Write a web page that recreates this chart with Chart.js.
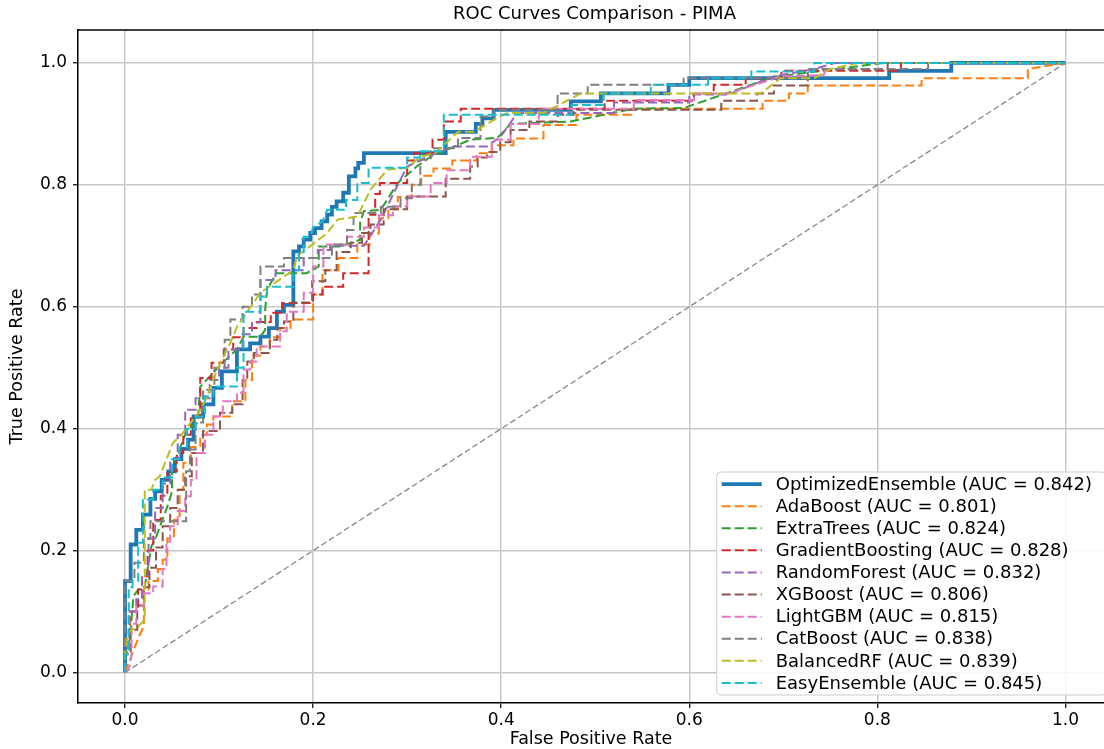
<!DOCTYPE html>
<html><head><meta charset="utf-8">
<script src="https://cdn.jsdelivr.net/npm/chart.js@4.4.1/dist/chart.umd.min.js"></script>
<style>html,body{margin:0;padding:0;background:#fff;overflow:hidden;}#wrap{width:1104px;height:749px;overflow:hidden;}canvas{display:block;}</style>
</head><body><div id="wrap"><canvas id="c" width="1104" height="749"></canvas></div>
<script>
const chartTitle = 'ROC Curves Comparison - PIMA';
const xTicks = [0, 0.2, 0.4, 0.6, 0.8, 1.0];
const yTicks = [0, 0.2, 0.4, 0.6, 0.8, 1.0];
const models = ['OptimizedEnsemble','AdaBoost','ExtraTrees','GradientBoosting','RandomForest','XGBoost','LightGBM','CatBoost','BalancedRF','EasyEnsemble'];
const aucValues = [0.842,0.801,0.824,0.828,0.832,0.806,0.815,0.838,0.839,0.845];
const colors = ['#1f77b4','#ff7f0e','#2ca02c','#d62728','#9467bd','#8c564b','#e377c2','#7f7f7f','#bcbd22','#17becf'];

const rocOptimizedEnsemble = [[0,0],[0,0.15],[0.006,0.15],[0.006,0.21],[0.012,0.21],[0.012,0.234],[0.019,0.234],[0.019,0.259],[0.027,0.259],[0.027,0.285],[0.032,0.285],[0.032,0.297],[0.039,0.297],[0.039,0.316],[0.046,0.316],[0.046,0.33],[0.053,0.33],[0.053,0.35],[0.06,0.35],[0.06,0.367],[0.067,0.367],[0.067,0.382],[0.073,0.382],[0.073,0.42],[0.083,0.42],[0.083,0.44],[0.094,0.44],[0.094,0.467],[0.103,0.467],[0.103,0.494],[0.119,0.494],[0.119,0.53],[0.133,0.53],[0.133,0.54],[0.144,0.54],[0.144,0.551],[0.153,0.551],[0.153,0.565],[0.1615,0.565],[0.1615,0.592],[0.169,0.592],[0.169,0.603],[0.179,0.603],[0.179,0.691],[0.185,0.691],[0.185,0.699],[0.19,0.699],[0.19,0.71],[0.197,0.71],[0.197,0.721],[0.202,0.721],[0.202,0.729],[0.209,0.729],[0.209,0.74],[0.215,0.74],[0.215,0.751],[0.22,0.751],[0.22,0.764],[0.225,0.764],[0.225,0.773],[0.232,0.773],[0.232,0.787],[0.238,0.787],[0.238,0.814],[0.245,0.814],[0.245,0.827],[0.248,0.827],[0.248,0.836],[0.254,0.836],[0.254,0.852],[0.341,0.852],[0.341,0.887],[0.373,0.887],[0.373,0.9],[0.38,0.9],[0.38,0.909],[0.392,0.909],[0.392,0.923],[0.474,0.923],[0.474,0.937],[0.506,0.937],[0.506,0.95],[0.578,0.95],[0.578,0.964],[0.6,0.964],[0.6,0.975],[0.8125,0.975],[0.8125,0.987],[0.8786,0.987],[0.8786,1.0],[1,1]];
const rocAdaBoost = [[0,0],[0.005,0.02],[0.01,0.04],[0.015,0.06],[0.02,0.076],[0.02,0.136],[0.025,0.136],[0.025,0.15],[0.035,0.15],[0.035,0.17],[0.04,0.17],[0.04,0.185],[0.045,0.185],[0.045,0.22],[0.052,0.22],[0.052,0.25],[0.058,0.25],[0.058,0.3],[0.062,0.3],[0.062,0.344],[0.07,0.344],[0.07,0.37],[0.08,0.37],[0.08,0.39],[0.087,0.39],[0.087,0.407],[0.094,0.407],[0.094,0.42],[0.114,0.42],[0.114,0.445],[0.128,0.445],[0.128,0.48],[0.135,0.48],[0.135,0.52],[0.144,0.52],[0.144,0.535],[0.154,0.535],[0.154,0.55],[0.165,0.55],[0.165,0.565],[0.176,0.565],[0.176,0.579],[0.2,0.579],[0.2,0.62],[0.21,0.62],[0.21,0.66],[0.227,0.66],[0.227,0.68],[0.247,0.68],[0.247,0.702],[0.26,0.702],[0.26,0.72],[0.27,0.72],[0.27,0.745],[0.28,0.745],[0.28,0.76],[0.29,0.76],[0.29,0.78],[0.305,0.78],[0.305,0.8],[0.315,0.8],[0.315,0.815],[0.328,0.815],[0.328,0.827],[0.348,0.827],[0.348,0.84],[0.374,0.84],[0.374,0.852],[0.39,0.852],[0.39,0.865],[0.413,0.865],[0.413,0.876],[0.445,0.876],[0.445,0.898],[0.48,0.898],[0.48,0.915],[0.538,0.915],[0.538,0.925],[0.678,0.925],[0.678,0.938],[0.706,0.938],[0.706,0.95],[0.726,0.95],[0.726,0.963],[0.847,0.963],[0.847,0.975],[0.96,0.975],[0.96,0.99],[1,1]];
const rocExtraTrees = [[0,0],[0,0.02],[0.003,0.043],[0.005,0.054],[0.009,0.125],[0.014,0.136],[0.021,0.141],[0.028,0.207],[0.032,0.218],[0.045,0.272],[0.05,0.297],[0.05,0.338],[0.055,0.354],[0.066,0.398],[0.077,0.41],[0.08,0.469],[0.094,0.492],[0.105,0.51],[0.119,0.53],[0.126,0.551],[0.144,0.551],[0.149,0.562],[0.149,0.595],[0.151,0.628],[0.161,0.655],[0.193,0.655],[0.206,0.666],[0.206,0.699],[0.229,0.699],[0.25,0.71],[0.25,0.738],[0.254,0.757],[0.272,0.759],[0.29,0.803],[0.31,0.83],[0.325,0.846],[0.367,0.874],[0.396,0.877],[0.41,0.9],[0.474,0.904],[0.541,0.925],[0.594,0.926],[0.69,0.977],[0.807,1.0],[1,1]];
const rocGradientBoosting = [[0,0],[0,0.05],[0.005,0.05],[0.005,0.1],[0.014,0.1],[0.014,0.136],[0.018,0.136],[0.018,0.158],[0.024,0.158],[0.024,0.2],[0.03,0.2],[0.03,0.25],[0.038,0.25],[0.038,0.29],[0.045,0.29],[0.045,0.33],[0.055,0.33],[0.055,0.36],[0.062,0.36],[0.062,0.39],[0.07,0.39],[0.07,0.42],[0.08,0.42],[0.08,0.483],[0.092,0.483],[0.092,0.508],[0.105,0.508],[0.105,0.53],[0.115,0.53],[0.115,0.55],[0.126,0.55],[0.126,0.565],[0.14,0.565],[0.14,0.575],[0.155,0.575],[0.155,0.59],[0.167,0.59],[0.167,0.606],[0.2,0.606],[0.2,0.62],[0.21,0.62],[0.21,0.633],[0.232,0.633],[0.232,0.655],[0.259,0.655],[0.259,0.751],[0.266,0.751],[0.266,0.785],[0.271,0.785],[0.271,0.803],[0.3,0.803],[0.3,0.84],[0.307,0.84],[0.307,0.852],[0.327,0.852],[0.327,0.874],[0.339,0.874],[0.339,0.904],[0.357,0.904],[0.357,0.925],[0.51,0.925],[0.51,0.938],[0.605,0.938],[0.605,0.95],[0.626,0.95],[0.626,0.964],[0.66,0.964],[0.66,0.975],[0.698,0.975],[0.698,0.987],[0.825,0.987],[0.825,1.0],[1,1]];
const rocRandomForest = [[0,0],[0,0.04],[0.004,0.04],[0.004,0.1],[0.012,0.1],[0.012,0.12],[0.018,0.12],[0.018,0.16],[0.025,0.16],[0.025,0.22],[0.032,0.22],[0.032,0.27],[0.04,0.27],[0.04,0.31],[0.048,0.31],[0.048,0.35],[0.056,0.35],[0.056,0.39],[0.064,0.39],[0.064,0.431],[0.075,0.431],[0.075,0.45],[0.09,0.45],[0.09,0.48],[0.1,0.48],[0.1,0.5],[0.11,0.5],[0.11,0.53],[0.125,0.53],[0.125,0.555],[0.135,0.555],[0.135,0.574],[0.144,0.574],[0.144,0.644],[0.16,0.644],[0.16,0.66],[0.19,0.66],[0.19,0.68],[0.205,0.68],[0.205,0.693],[0.218,0.693],[0.218,0.7],[0.254,0.7],[0.272,0.743],[0.291,0.803],[0.3,0.83],[0.32,0.845],[0.349,0.863],[0.385,0.863],[0.4,0.88],[0.417,0.918],[0.52,0.918],[0.52,0.935],[0.6,0.935],[0.6,0.948],[0.641,0.948],[0.69,0.978],[0.733,0.99],[0.755,1.0],[1,1]];
const rocXGBoost = [[0,0],[0,0.03],[0.006,0.03],[0.006,0.07],[0.013,0.07],[0.013,0.11],[0.02,0.11],[0.02,0.14],[0.026,0.14],[0.026,0.172],[0.033,0.172],[0.033,0.205],[0.04,0.205],[0.04,0.24],[0.048,0.24],[0.048,0.27],[0.056,0.27],[0.056,0.3],[0.064,0.3],[0.064,0.322],[0.071,0.322],[0.071,0.36],[0.083,0.36],[0.083,0.396],[0.101,0.396],[0.101,0.426],[0.114,0.426],[0.114,0.44],[0.125,0.44],[0.125,0.48],[0.13,0.48],[0.13,0.51],[0.137,0.51],[0.137,0.524],[0.154,0.524],[0.154,0.546],[0.162,0.546],[0.162,0.565],[0.169,0.565],[0.169,0.576],[0.179,0.576],[0.179,0.607],[0.199,0.607],[0.199,0.642],[0.213,0.642],[0.213,0.66],[0.225,0.66],[0.225,0.69],[0.24,0.69],[0.24,0.705],[0.252,0.705],[0.252,0.721],[0.261,0.721],[0.261,0.735],[0.275,0.735],[0.275,0.76],[0.3,0.76],[0.3,0.781],[0.341,0.781],[0.341,0.81],[0.367,0.81],[0.367,0.83],[0.375,0.83],[0.375,0.845],[0.385,0.845],[0.385,0.854],[0.399,0.854],[0.399,0.87],[0.41,0.87],[0.41,0.89],[0.43,0.89],[0.43,0.904],[0.46,0.904],[0.46,0.915],[0.477,0.915],[0.477,0.923],[0.634,0.923],[0.634,0.938],[0.672,0.938],[0.672,0.95],[0.69,0.95],[0.69,0.963],[0.726,0.963],[0.726,0.989],[0.811,0.989],[0.811,1.0],[1,1]];
const rocLightGBM = [[0,0],[0.005,0.01],[0.007,0.03],[0.007,0.08],[0.012,0.08],[0.012,0.11],[0.02,0.11],[0.02,0.13],[0.03,0.13],[0.03,0.141],[0.04,0.141],[0.04,0.17],[0.044,0.17],[0.044,0.215],[0.048,0.215],[0.048,0.24],[0.056,0.24],[0.056,0.265],[0.064,0.265],[0.064,0.289],[0.07,0.289],[0.07,0.316],[0.076,0.316],[0.076,0.36],[0.085,0.36],[0.085,0.39],[0.094,0.39],[0.094,0.42],[0.104,0.42],[0.104,0.445],[0.119,0.445],[0.119,0.459],[0.126,0.459],[0.126,0.497],[0.133,0.497],[0.133,0.51],[0.14,0.51],[0.14,0.535],[0.165,0.535],[0.165,0.56],[0.172,0.56],[0.172,0.592],[0.19,0.592],[0.19,0.623],[0.2,0.623],[0.2,0.666],[0.211,0.666],[0.211,0.702],[0.236,0.702],[0.236,0.715],[0.254,0.715],[0.254,0.73],[0.27,0.73],[0.27,0.75],[0.285,0.75],[0.285,0.765],[0.3,0.765],[0.3,0.781],[0.325,0.781],[0.325,0.803],[0.342,0.803],[0.342,0.824],[0.367,0.824],[0.367,0.846],[0.39,0.846],[0.39,0.874],[0.41,0.874],[0.41,0.9],[0.44,0.9],[0.44,0.925],[0.541,0.925],[0.541,0.939],[0.605,0.939],[0.605,0.95],[0.641,0.95],[0.698,0.978],[0.743,0.98],[0.747,1.0],[1,1]];
const rocCatBoost = [[0,0],[0,0.15],[0.01,0.15],[0.01,0.18],[0.02,0.18],[0.02,0.22],[0.027,0.22],[0.027,0.248],[0.065,0.248],[0.065,0.33],[0.069,0.33],[0.069,0.366],[0.075,0.366],[0.075,0.41],[0.083,0.41],[0.083,0.464],[0.095,0.464],[0.095,0.5],[0.106,0.5],[0.106,0.546],[0.112,0.546],[0.112,0.579],[0.125,0.579],[0.125,0.6],[0.135,0.6],[0.135,0.62],[0.144,0.62],[0.144,0.666],[0.169,0.666],[0.169,0.68],[0.22,0.68],[0.22,0.702],[0.236,0.702],[0.236,0.726],[0.243,0.726],[0.243,0.754],[0.272,0.754],[0.272,0.764],[0.293,0.764],[0.293,0.778],[0.305,0.778],[0.305,0.8],[0.314,0.8],[0.314,0.841],[0.325,0.841],[0.325,0.86],[0.354,0.86],[0.354,0.877],[0.378,0.877],[0.378,0.912],[0.392,0.912],[0.392,0.923],[0.46,0.923],[0.46,0.95],[0.492,0.95],[0.492,0.964],[0.594,0.964],[0.594,0.975],[0.726,0.975],[0.726,0.99],[0.854,0.99],[0.854,1.0],[1,1]];
const rocBalancedRF = [[0,0],[0,0.03],[0.003,0.066],[0.014,0.075],[0.021,0.087],[0.021,0.3],[0.028,0.3],[0.032,0.316],[0.037,0.322],[0.051,0.377],[0.06,0.39],[0.07,0.41],[0.08,0.43],[0.087,0.452],[0.098,0.497],[0.112,0.541],[0.119,0.567],[0.144,0.623],[0.179,0.66],[0.183,0.683],[0.215,0.721],[0.226,0.743],[0.247,0.748],[0.261,0.792],[0.279,0.825],[0.3,0.828],[0.314,0.846],[0.33,0.852],[0.354,0.887],[0.371,0.887],[0.396,0.91],[0.407,0.918],[0.445,0.918],[0.485,0.95],[0.676,0.95],[0.697,0.975],[0.733,0.975],[0.75,0.99],[0.78,1.0],[1,1]];
const rocEasyEnsemble = [[0,0],[0,0.03],[0.004,0.03],[0.004,0.14],[0.008,0.14],[0.008,0.15],[0.014,0.15],[0.014,0.213],[0.019,0.213],[0.019,0.284],[0.03,0.284],[0.03,0.3],[0.04,0.3],[0.04,0.32],[0.05,0.32],[0.05,0.35],[0.058,0.35],[0.058,0.37],[0.066,0.37],[0.066,0.4],[0.075,0.4],[0.075,0.42],[0.085,0.42],[0.085,0.453],[0.094,0.453],[0.094,0.469],[0.119,0.469],[0.119,0.5],[0.126,0.5],[0.126,0.592],[0.144,0.592],[0.144,0.617],[0.151,0.617],[0.151,0.633],[0.179,0.633],[0.179,0.66],[0.185,0.66],[0.185,0.69],[0.19,0.69],[0.19,0.715],[0.197,0.715],[0.2,0.73],[0.21,0.74],[0.215,0.759],[0.235,0.759],[0.235,0.775],[0.247,0.775],[0.247,0.803],[0.259,0.803],[0.259,0.828],[0.3,0.828],[0.3,0.845],[0.314,0.845],[0.314,0.855],[0.339,0.855],[0.339,0.915],[0.475,0.915],[0.475,0.931],[0.509,0.931],[0.509,0.95],[0.559,0.95],[0.559,0.964],[0.62,0.964],[0.62,0.975],[0.666,0.975],[0.666,0.986],[0.733,0.986],[0.733,1.0],[1,1]];
const chanceLine = [[0,0],[1,1]];

const rocCurves = [rocOptimizedEnsemble, rocAdaBoost, rocExtraTrees, rocGradientBoosting, rocRandomForest, rocXGBoost, rocLightGBM, rocCatBoost, rocBalancedRF, rocEasyEnsemble];

const FONT = 'DejaVu Sans';
const datasets = models.map((m, i) => ({
  label: m + ' (AUC = ' + aucValues[i].toFixed(3) + ')',
  data: rocCurves[i].map(p => ({x: p[0], y: p[1]})),
  borderColor: colors[i],
  backgroundColor: colors[i],
  borderWidth: i === 0 ? 3.8 : 2,
  borderDash: i === 0 ? [] : [9, 4],
  pointRadius: 0,
  fill: false,
  tension: 0,
  order: models.length + 1 - i
}));
datasets.push({
  label: '_chance',
  data: chanceLine.map(p => ({x: p[0], y: p[1]})),
  borderColor: '#888888',
  borderWidth: 1.3,
  borderDash: [6, 3],
  pointRadius: 0,
  fill: false,
  order: 0
});

const decor = {
  id: 'decor',
  afterDraw(chart) {
    const ctx = chart.ctx, a = chart.chartArea, W = chart.width;
    ctx.save();
    ctx.strokeStyle = '#000'; ctx.lineWidth = 1.5;
    ctx.beginPath(); ctx.moveTo(a.left, a.top); ctx.lineTo(W, a.top); ctx.stroke();
    ctx.fillStyle = '#000';
    ctx.font = '18px "' + FONT + '"';
    ctx.textAlign = 'center'; ctx.textBaseline = 'middle';
    ctx.fillText(chartTitle, (a.left + 1111) / 2, 14);
    const labels = chart.data.datasets.filter(d => !d.label.startsWith('_'));
    ctx.font = '18px "' + FONT + '"';
    let tw = 0;
    labels.forEach(d => { tw = Math.max(tw, ctx.measureText(d.label).width); });
    const rowH = 22.1, handle = 40, padL = 5, gap = 14, padR = 14;
    const right = W + 2, bottom = a.bottom - 8;
    const h = labels.length * rowH + 2;
    const top = bottom - h;
    const w = padL + handle + gap + tw + padR;
    const left = right - w;
    ctx.fillStyle = 'rgba(255,255,255,0.85)';
    ctx.strokeStyle = '#cccccc'; ctx.lineWidth = 1;
    ctx.beginPath();
    if (ctx.roundRect) ctx.roundRect(left, top, w, h, 4); else ctx.rect(left, top, w, h);
    ctx.fill(); ctx.stroke();
    labels.forEach((d, i) => {
      const cy = top + 1 + rowH * (i + 0.5);
      ctx.strokeStyle = d.borderColor;
      ctx.lineWidth = d.borderWidth;
      ctx.setLineDash(d.borderDash || []);
      ctx.beginPath(); ctx.moveTo(left + padL, cy); ctx.lineTo(left + padL + handle, cy); ctx.stroke();
      ctx.setLineDash([]);
      ctx.fillStyle = '#000';
      ctx.textAlign = 'left'; ctx.textBaseline = 'middle';
      ctx.fillText(d.label, left + padL + handle + gap, cy + 1);
    });
    ctx.restore();
  }
};

const tickFont = {family: FONT, size: 17};
const labelFont = {family: FONT, size: 17.5};
new Chart(document.getElementById('c'), {
  type: 'line',
  data: {datasets},
  options: {
    responsive: false, animation: false, devicePixelRatio: 1,
    layout: {padding: {top: 30, right: 0, left: 0, bottom: 0}},
    plugins: {legend: {display: false}, title: {display: false}, tooltip: {enabled: false}},
    scales: {
      x: {
        type: 'linear', min: -0.05, max: 1.041,
        afterBuildTicks: s => { s.ticks = xTicks.map(v => ({value: v})); },
        afterFit: s => { s.height = 46; },
        grid: {color: '#c8c8c8', lineWidth: 1.5, tickLength: 5, tickColor: '#000', tickWidth: 1.2},
        border: {display: true, color: '#000', width: 1.5},
        ticks: {callback: v => Number(v).toFixed(1), font: tickFont, color: '#000', padding: 2, maxRotation: 0, autoSkip: false},
        title: {display: true, text: 'False Positive Rate', font: labelFont, color: '#000', padding: {top: 0, bottom: -1}}
      },
      y: {
        type: 'linear', min: -0.05, max: 1.054,
        afterBuildTicks: s => { s.ticks = yTicks.map(v => ({value: v})); },
        afterFit: s => { s.width = 78; },
        grid: {color: '#c8c8c8', lineWidth: 1.5, tickLength: 5, tickColor: '#000', tickWidth: 1.2},
        border: {display: true, color: '#000', width: 1.5},
        ticks: {callback: v => Number(v).toFixed(1), font: tickFont, color: '#000', padding: 6, autoSkip: false},
        title: {display: true, text: 'True Positive Rate', font: labelFont, color: '#000', padding: {top: 7, bottom: 0}}
      }
    }
  },
  plugins: [decor]
});
</script></body></html>
